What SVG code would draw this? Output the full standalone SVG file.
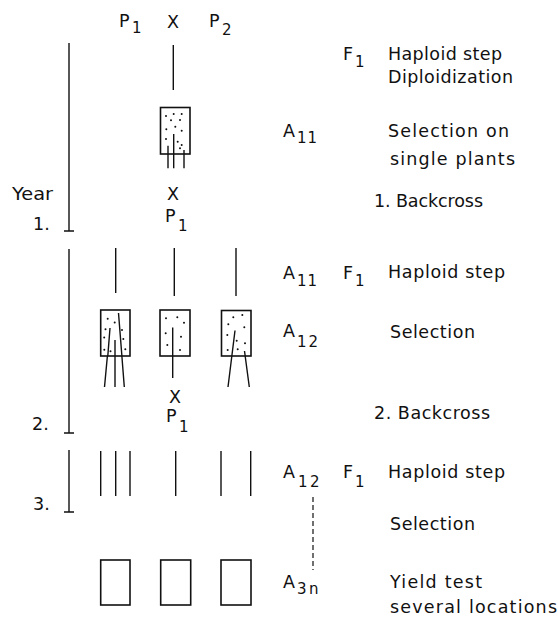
<svg xmlns="http://www.w3.org/2000/svg" width="558" height="622" viewBox="0 0 558 622">
<style>
  text { font-family: "DejaVu Sans", "Liberation Sans", sans-serif; font-size: 17.5px; fill: #111; }
  .sub { font-size: 15px; }
  .ln { stroke: #111; stroke-width: 1.4; fill: none; stroke-linecap: butt; }
  .box { stroke: #111; stroke-width: 1.6; fill: #fff; }
  .dot { fill: #111; }
  .dash { stroke: #111; stroke-width: 1.2; fill: none; stroke-dasharray: 5 3; }
</style>
<rect width="558" height="622" fill="#fff"/>

<g id="parents">
  <text x="119" y="27">P</text><text class="sub" x="132" y="33">1</text>
  <text x="167" y="28">X</text>
  <text x="209" y="27">P</text><text class="sub" x="222" y="35">2</text>
</g>

<g id="timeline">
  <path class="ln" d="M69 43V231M64 231H74"/>
  <path class="ln" d="M69 249V433M64 433H74"/>
  <path class="ln" d="M69 450V512M64 512H74"/>
  <text x="12" y="200" textLength="41" lengthAdjust="spacingAndGlyphs">Year</text>
  <text x="33" y="230">1.</text>
  <text x="32" y="430">2.</text>
  <text x="33" y="510">3.</text>
</g>

<g id="connectors">
  <path class="ln" d="M173.3 45V90"/>
  <path class="ln" d="M168 145.7V168.3M173.7 134V168.3M184 150V168.3"/>
  <path class="ln" d="M115.7 248V293M174.3 248V296M236 248V296"/>
  <path class="ln" d="M118.5 313L124.3 387M110 328L104.5 387M115 340V387"/>
  <path class="ln" d="M172.7 327.5V378"/>
  <path class="ln" d="M235 330.5L228 387M244.5 351L249.3 387"/>
  <path class="ln" d="M100.7 451V496M115.7 451V496M130 451V496M175.7 451V496M221 451V496M250.7 451V496"/>
  <path class="dash" d="M313 497V570"/>
</g>

<g id="box-a11">
  <rect class="box" x="160.5" y="107.5" width="29.5" height="46.5"/>
  <g class="dot">
    <circle cx="166" cy="116" r="1"/><circle cx="173.7" cy="114" r="1"/><circle cx="181.7" cy="114" r="1"/>
    <circle cx="171" cy="120.3" r="1"/><circle cx="180" cy="120" r="1"/><circle cx="175.3" cy="126.7" r="1"/>
    <circle cx="166.3" cy="129.3" r="1"/><circle cx="181.7" cy="130.7" r="1"/><circle cx="166" cy="139" r="1"/>
    <circle cx="177.7" cy="141.7" r="1"/><circle cx="181.7" cy="145" r="1"/><circle cx="180" cy="148.3" r="1"/>
  </g>
  <path class="ln" d="M168 145.7V154M173.7 134V154M184 150V154"/>
</g>

<g id="cross-1">
  <text x="167" y="200">X</text>
  <text x="165" y="222">P</text><text class="sub" x="178" y="231">1</text>
</g>

<g id="box-a12-left">
  <rect class="box" x="100.7" y="310" width="29.3" height="46"/>
  <g class="dot">
    <circle cx="107.7" cy="318.7" r="1"/><circle cx="114.7" cy="322.5" r="1"/><circle cx="105.5" cy="329.2" r="1"/>
    <circle cx="122" cy="330" r="1"/><circle cx="104.2" cy="337.5" r="1"/><circle cx="123.3" cy="339" r="1"/>
    <circle cx="104.3" cy="349.7" r="1"/><circle cx="110.5" cy="351.3" r="1"/><circle cx="125.3" cy="349.2" r="1"/>
  </g>
  <path class="ln" d="M118.5 313L121.9 356M110 328L107.8 356M115 340V356"/>
</g>

<g id="box-a12-mid">
  <rect class="box" x="160" y="310" width="30" height="46"/>
  <g class="dot">
    <circle cx="166" cy="318.3" r="1"/><circle cx="177.3" cy="317.3" r="1"/><circle cx="184" cy="322.7" r="1"/>
    <circle cx="165.7" cy="333.3" r="1"/><circle cx="181" cy="336.7" r="1"/><circle cx="167.3" cy="345" r="1"/>
    <circle cx="180" cy="350" r="1"/>
  </g>
  <path class="ln" d="M172.7 327.5V356"/>
</g>

<g id="box-a12-right">
  <rect class="box" x="221.5" y="310.5" width="29.5" height="45.5"/>
  <g class="dot">
    <circle cx="233.3" cy="317.3" r="1"/><circle cx="242.3" cy="315" r="1"/><circle cx="228.3" cy="324.3" r="1"/>
    <circle cx="244.3" cy="327.3" r="1"/><circle cx="227.3" cy="335" r="1"/><circle cx="236.7" cy="340.7" r="1"/>
    <circle cx="245" cy="343.3" r="1"/><circle cx="227.7" cy="350" r="1"/><circle cx="237.7" cy="349.3" r="1"/>
  </g>
  <path class="ln" d="M235 330.5L231.85 356M244.5 351L245.2 356"/>
</g>

<g id="cross-2">
  <text x="169" y="403">X</text>
  <text x="166" y="422">P</text><text class="sub" x="179" y="432">1</text>
</g>

<g id="box-a3n-1"><rect class="box" x="100.7" y="560" width="29.3" height="45"/></g>
<g id="box-a3n-2"><rect class="box" x="160.7" y="560" width="30" height="45"/></g>
<g id="box-a3n-3"><rect class="box" x="221" y="560" width="30" height="45"/></g>

<g id="labels-codes">
  <text x="343" y="60">F</text><text class="sub" x="355" y="67">1</text>
  <text x="283" y="137">A</text><text class="sub" x="297" y="143" textLength="20">11</text>
  <text x="283" y="279">A</text><text class="sub" x="297" y="286" textLength="20">11</text>
  <text x="343" y="279">F</text><text class="sub" x="355" y="286">1</text>
  <text x="283" y="337">A</text><text class="sub" x="297" y="347" textLength="21">12</text>
  <text x="283" y="478">A</text><text class="sub" x="298" y="487">1</text><text class="sub" x="310" y="487">2</text>
  <text x="343" y="478">F</text><text class="sub" x="355" y="487">1</text>
  <text x="283" y="588">A</text><text class="sub" x="297" y="594">3</text><text class="sub" x="309" y="594">n</text>
</g>

<g id="labels-steps">
  <text x="388" y="60" textLength="114">Haploid step</text>
  <text x="388" y="83" textLength="125">Diploidization</text>
  <text x="388" y="137" textLength="121">Selection on</text>
  <text x="390" y="165" textLength="125">single plants</text>
  <text x="374" y="207" textLength="109">1. Backcross</text>
  <text x="388" y="278" textLength="117">Haploid step</text>
  <text x="390" y="338" textLength="85">Selection</text>
  <text x="374" y="419" textLength="116">2. Backcross</text>
  <text x="388" y="478" textLength="117">Haploid step</text>
  <text x="390" y="530" textLength="85">Selection</text>
  <text x="390" y="588" textLength="92">Yield test</text>
  <text x="390" y="613" textLength="167">several locations</text>
</g>
</svg>
